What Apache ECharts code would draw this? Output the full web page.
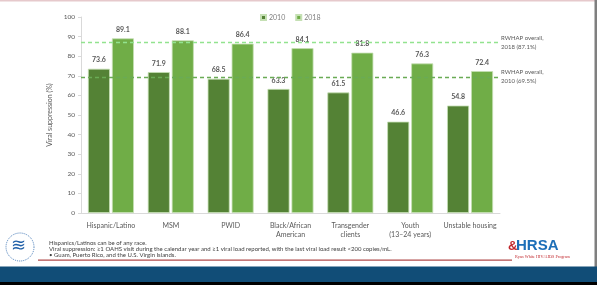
<!DOCTYPE html>
<html>
<head>
<meta charset="utf-8">
<script src="https://cdn.jsdelivr.net/npm/echarts@6/dist/echarts.min.js"></script>
<style>
  html, body { margin: 0; padding: 0; background: #fff; }
  #chart { width: 597px; height: 285px; }
</style>
</head>
<body>
<div id="chart"></div>
<script>
// data
const categories = ['Hispanic/Latino', 'MSM', 'PWID', 'Black/African\nAmerican', 'Transgender\nclients', 'Youth\n(13–24 years)', 'Unstable housing']
const values2010 = [73.6, 71.9, 68.5, 63.3, 61.5, 46.6, 54.8]
const values2018 = [89.1, 88.1, 86.4, 84.1, 81.8, 76.3, 72.4]
const overall2018 = 87.1
const overall2010 = 69.5
const yTicks = [0, 10, 20, 30, 40, 50, 60, 70, 80, 90, 100]

const FONT = 'Lato'
const chart = echarts.init(document.getElementById('chart'))

const barLabel = {
  show: true,
  position: 'top',
  distance: 5,
  color: '#595959',
  fontSize: 7,
  fontWeight: 'bold',
  fontFamily: FONT
}

const option = {
  animation: false,
  textStyle: { fontFamily: FONT },
  legend: {
    top: 9,
    left: 255,
    itemWidth: 5,
    itemHeight: 5,
    itemGap: 10,
    icon: 'rect',
    textStyle: { fontSize: 7, color: '#7f7f7f', padding: [0, 0, 0, -2] },
    data: ['2010', '2018']
  },
  grid: { left: 81, right: 97, top: 17, bottom: 72 },
  xAxis: {
    type: 'category',
    data: categories,
    axisLine: { lineStyle: { color: '#d9d9d9' } },
    axisTick: { show: false },
    axisLabel: { color: '#595959', fontSize: 7, lineHeight: 9, margin: 8, interval: 0 }
  },
  yAxis: {
    type: 'value',
    min: yTicks[0],
    max: yTicks[yTicks.length - 1],
    interval: 10,
    name: 'Viral suppression (%)',
    nameLocation: 'middle',
    nameGap: 19,
    nameTextStyle: { color: '#595959', fontSize: 7 },
    axisLine: { show: true, lineStyle: { color: '#d9d9d9' } },
    axisTick: { show: true, length: 3, lineStyle: { color: '#d9d9d9' } },
    axisLabel: { color: '#595959', fontSize: 6.5, margin: 6 },
    splitLine: { show: false }
  },
  series: [
    {
      name: '2010',
      type: 'bar',
      data: values2010,
      barWidth: 22,
      barGap: '9%',
      itemStyle: { color: '#548235', borderColor: '#c5e0b4', borderWidth: 0.8 },
      label: barLabel,
      markLine: {
        silent: true,
        symbol: 'none',
        data: [
          { yAxis: overall2018, lineStyle: { color: '#92e38f', type: [4, 3], width: 1.3 },
            label: { formatter: 'RWHAP overall,\n2018 (87.1%)' } },
          { yAxis: overall2010, lineStyle: { color: '#6aab55', type: [4, 3], width: 1.3 },
            label: { formatter: 'RWHAP overall,\n2010 (69.5%)' } }
        ],
        label: {
          position: 'end',
          distance: 1,
          color: '#595959',
          fontSize: 6,
          lineHeight: 9,
          align: 'left',
          padding: [11, 0, 0, 0]
        }
      }
    },
    {
      name: '2018',
      type: 'bar',
      data: values2018,
      barWidth: 22,
      itemStyle: { color: '#70ad47', borderColor: '#c5e0b4', borderWidth: 0.8 },
      label: barLabel
    }
  ],
  graphic: [
    // slide top border and right edge
    { type: 'rect', shape: { x: 0, y: 0, width: 597, height: 1.5 }, style: { fill: '#e6c9cc' } },
    { type: 'rect', shape: { x: 594.5, y: 0, width: 2.5, height: 285 }, style: { fill: '#7f7f7f' } },
    // footer band
    { type: 'rect', shape: { x: 38, y: 259.5, width: 474, height: 1.2 }, style: { fill: '#b04a4a' } },
    { type: 'rect', shape: { x: 0, y: 266.5, width: 597, height: 15.5 }, style: { fill: '#114d77' } },
    { type: 'rect', shape: { x: 0, y: 282, width: 597, height: 3 }, style: { fill: '#000' } },
    // footnotes
    { type: 'text', left: 49, top: 240.5, style: { text: 'Hispanics/Latinos can be of any race.', fontSize: 6, fill: '#404040', fontFamily: FONT } },
    { type: 'text', left: 49, top: 246.5, style: { text: 'Viral suppression: ≥1 OAHS visit during the calendar year and ≥1 viral load reported, with the last viral load result <200 copies/mL.', fontSize: 6, fill: '#404040', fontFamily: FONT } },
    { type: 'text', left: 49, top: 252.5, style: { text: '• Guam, Puerto Rico, and the U.S. Virgin Islands.', fontSize: 6, fill: '#404040', fontFamily: FONT } },
    // HHS seal (simplified)
    { type: 'circle', shape: { cx: 20, cy: 247, r: 14 }, style: { fill: 'none', stroke: '#1f5fa8', lineWidth: 0.8, lineDash: [1, 1] } },
    { type: 'text', left: 11, top: 237, style: { text: '≋', fontSize: 18, fill: '#1f5fa8', fontFamily: 'DejaVu Sans' } },
    // HRSA logo (simplified)
    { type: 'text', left: 516, top: 238.5, style: { text: 'HRSA', fontSize: 15, fontWeight: 'bold', fill: '#1d6fb8', fontFamily: 'Liberation Sans' } },
    { type: 'text', left: 508, top: 240, style: { text: '&', fontSize: 13, fontWeight: 'bold', fill: '#c0272d', fontFamily: 'Liberation Sans' } },
    { type: 'text', left: 515, top: 254.5, style: { text: 'Ryan White HIV/AIDS Program', fontSize: 4.2, fill: '#c0272d', fontFamily: 'Liberation Sans Narrow' } }
  ]
}

chart.setOption(option)
</script>
</body>
</html>
